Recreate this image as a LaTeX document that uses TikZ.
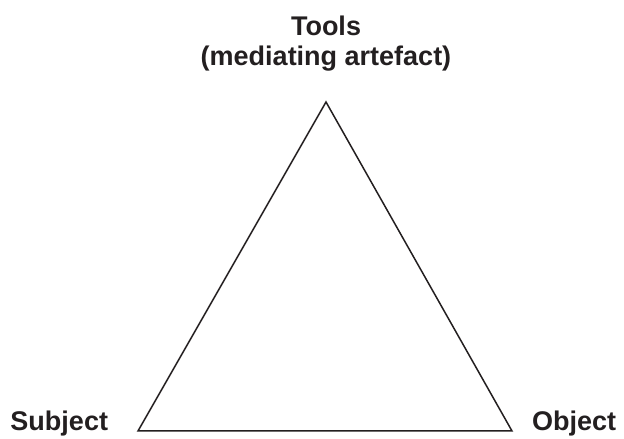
\documentclass[tikz,border=0pt]{standalone}
\usepackage{fontspec}
\setmainfont{Liberation Sans}
\usetikzlibrary{calc}
\definecolor{inkgrey}{RGB}{35,31,32}

\begin{document}
\begin{tikzpicture}[x=1pt,y=1pt,inner sep=0pt,outer sep=0pt,
    every node/.style={font=\fontsize{27}{30}\selectfont\bfseries, text=inkgrey}]
    \useasboundingbox (0,0) rectangle (624,439);
    % corners of the triangle
    \coordinate (apex) at (326,337);
    \coordinate (subj_pt) at (138,8);
    \coordinate (obj_pt) at (512,8);
    \draw[inkgrey, line width=1.5pt, line join=miter] (apex) -- (subj_pt) -- (obj_pt) -- cycle;

    % labels
    \node[anchor=south, align=center] (tools_cap)
    at ($(apex) + (0pt, 31pt)$)
    {Tools\\(mediating artefact)};

    \node[anchor=base east] (subj_cap) at ($(subj_pt) + (-30pt, 0)$) {Subject};

    \node[anchor=base west] (obj_cap) at ($(obj_pt) + (20pt, 0)$) {Object};
\end{tikzpicture}
\end{document}
